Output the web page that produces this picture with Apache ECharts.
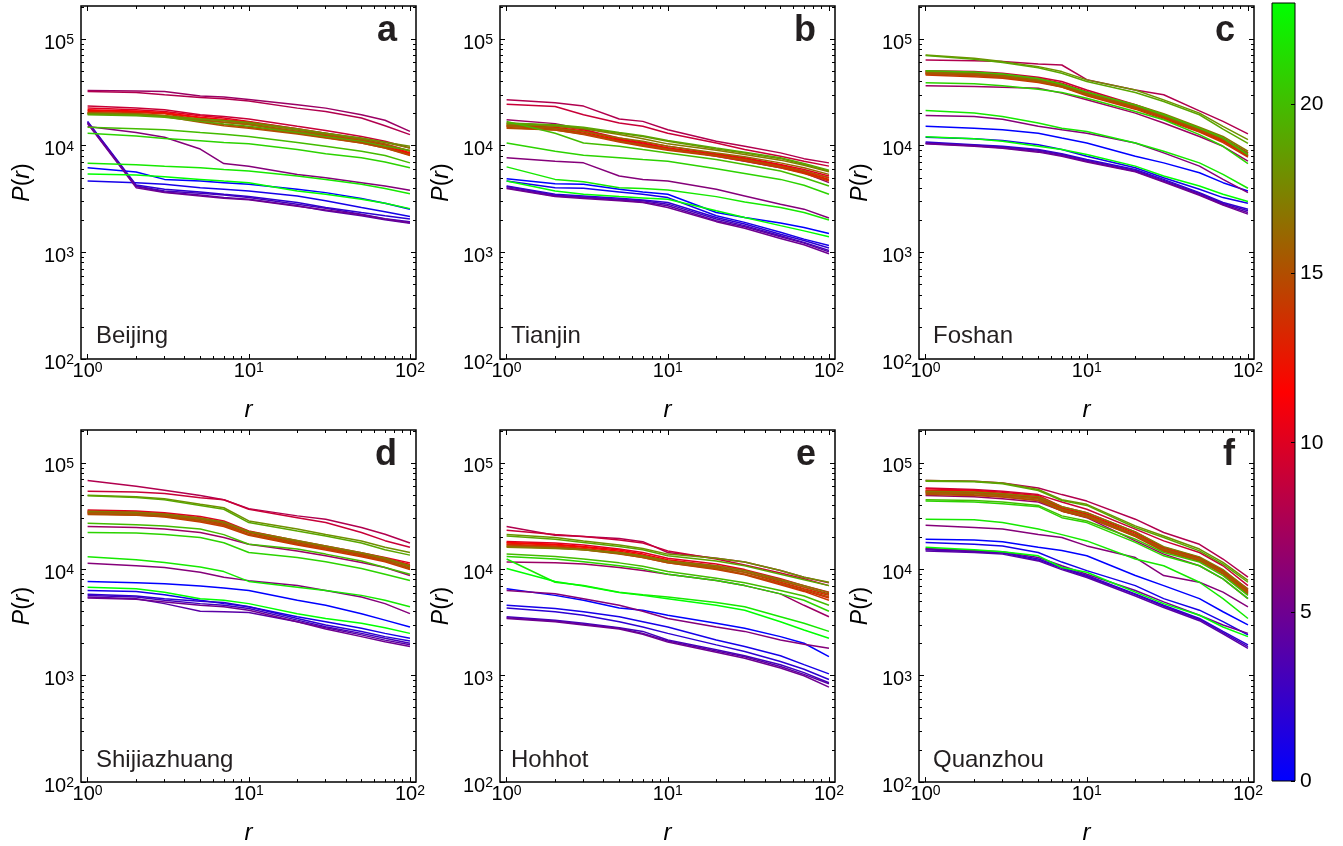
<!DOCTYPE html>
<html><head><meta charset="utf-8">
<script src="https://cdn.jsdelivr.net/npm/echarts@6/dist/echarts.min.js"></script>
<style>html,body{margin:0;padding:0;background:#fff}#c{width:1343px;height:846px}</style>
</head><body><div id="c"></div>
<script>
// ---------- data ----------
const R = [1, 2, 3, 5, 7, 10, 20, 30, 50, 70, 100];
const CITIES = ['Beijing', 'Tianjin', 'Foshan', 'Shijiazhuang', 'Hohhot', 'Quanzhou'];
const LETTERS = ['a', 'b', 'c', 'd', 'e', 'f'];
const X_TICKS = [1, 10, 100];
const Y_TICKS = [100, 1000, 10000, 100000];
const CBAR_TICKS = [0, 5, 10, 15, 20];
const CBAR_MAX = 23;

// P(r) for hours 0..23, values at R
const BEIJING = [
 [6200, 5660, 4830, 4660, 4500, 4340, 3900, 3630, 3190, 2890, 2540],
 [4660, 4500, 4340, 4040, 3900, 3760, 3380, 3040, 2630, 2400, 2170],
 [16900, 4280, 3900, 3680, 3500, 3330, 2930, 2630, 2360, 2200, 2050],
 [16700, 4190, 3760, 3580, 3450, 3260, 2830, 2590, 2280, 2070, 1940],
 [16300, 4140, 3680, 3450, 3260, 3150, 2730, 2450, 2200, 2020, 1870],
 [16100, 4040, 3630, 3380, 3220, 3110, 2700, 2490, 2250, 2050, 1890],
 [15100, 13300, 12000, 9300, 6800, 6430, 5380, 5010, 4500, 4190, 3820],
 [32900, 32600, 32200, 29200, 28600, 27100, 24200, 22500, 19500, 17300, 13600],
 [32200, 31500, 30000, 28300, 27500, 26300, 22500, 20900, 18200, 15400, 12700],
 [23500, 22500, 21700, 19500, 18800, 17800, 15200, 13900, 12200, 11000, 9500],
 [22500, 21700, 20900, 19100, 18200, 16900, 14400, 13100, 11500, 10400, 8900],
 [21700, 21200, 20400, 18500, 17600, 16700, 14000, 12700, 11200, 10200, 8560],
 [21400, 20800, 20200, 18200, 17200, 16100, 13600, 12400, 11000, 9870, 8450],
 [20900, 20500, 19900, 17500, 16600, 15800, 13300, 12200, 10800, 9650, 8270],
 [20400, 19900, 19100, 16900, 15800, 14900, 13100, 11900, 10600, 9500, 8090],
 [20200, 19800, 18800, 16600, 15400, 14600, 12900, 11800, 10600, 9500, 8200],
 [20200, 19900, 19100, 17200, 16600, 15800, 13600, 12700, 11400, 10300, 8850],
 [19900, 19600, 19100, 17800, 17200, 16600, 14400, 13100, 11700, 10700, 9500],
 [19800, 19500, 18800, 17800, 17200, 16300, 14100, 13100, 11800, 10800, 9870],
 [19500, 19100, 18500, 16900, 16000, 15200, 13300, 12200, 11000, 9870, 9060],
 [14900, 14400, 14100, 13300, 12800, 12200, 10700, 9870, 8850, 8080, 6900],
 [13100, 12300, 11700, 11100, 10700, 10400, 9190, 8400, 7700, 7030, 6200],
 [6860, 6630, 6430, 6200, 5990, 5780, 5190, 4830, 4340, 3960, 3550],
 [5430, 5300, 5120, 4830, 4660, 4500, 3760, 3500, 3150, 2890, 2570]
];
const TIANJIN = [
 [4910, 4390, 4340, 3900, 3680, 3500, 2360, 2120, 1880, 1710, 1500],
 [4660, 4040, 3980, 3680, 3500, 3260, 2200, 1910, 1540, 1330, 1160],
 [4190, 3500, 3380, 3220, 3100, 2930, 2120, 1840, 1480, 1290, 1100],
 [4140, 3430, 3310, 3150, 3040, 2830, 2050, 1780, 1430, 1240, 1040],
 [4040, 3380, 3260, 3100, 2970, 2730, 1980, 1740, 1400, 1220, 1010],
 [3960, 3330, 3190, 3040, 2930, 2630, 1940, 1680, 1350, 1180, 970],
 [7700, 7160, 6900, 5190, 4830, 4660, 3900, 3380, 2830, 2540, 2100],
 [17500, 16100, 14300, 11400, 10400, 9520, 7970, 7160, 6200, 5570, 4500],
 [26900, 25300, 23500, 17800, 16900, 14100, 11000, 9870, 8560, 7560, 6900],
 [24500, 23300, 19500, 16300, 15200, 13100, 10600, 9190, 7970, 7160, 6430],
 [16300, 15400, 14100, 11800, 10800, 9870, 8400, 7700, 6660, 5990, 5190],
 [15700, 14900, 13700, 11500, 10600, 9520, 8260, 7560, 6560, 5780, 5010],
 [15400, 14600, 13400, 11200, 10200, 9320, 8080, 7420, 6430, 5680, 4830],
 [15200, 14400, 13100, 11000, 10100, 9190, 8080, 7280, 6330, 5570, 4760],
 [14800, 14000, 12700, 10800, 9870, 9060, 7970, 7200, 6200, 5470, 4660],
 [14600, 14000, 12900, 11000, 10200, 9320, 8080, 7420, 6430, 5780, 5010],
 [15200, 14600, 13600, 11800, 11000, 9870, 8560, 7860, 6900, 6200, 5380],
 [15700, 15200, 14400, 12700, 11600, 10400, 9060, 8260, 7320, 6560, 5680],
 [16100, 15500, 14600, 13100, 12200, 11000, 9320, 8560, 7560, 6660, 5780],
 [16300, 15700, 14900, 13300, 12400, 11200, 9520, 8700, 7700, 6800, 5900],
 [16900, 13100, 10600, 9870, 9190, 8560, 7420, 6660, 5780, 5010, 4190],
 [10600, 8870, 8150, 7700, 7420, 7160, 6080, 5490, 4830, 4250, 3500],
 [6330, 4830, 4600, 4040, 3960, 3850, 3330, 2970, 2630, 2360, 2010],
 [4660, 3760, 3500, 3330, 3240, 3150, 2450, 2120, 1780, 1590, 1400]
];
const FOSHAN = [
 [15200, 14600, 14100, 13100, 11800, 10600, 7970, 6900, 5570, 4500, 3760],
 [12000, 11600, 11200, 10200, 9190, 7970, 6200, 5010, 3900, 3260, 2890],
 [10800, 10200, 9870, 9190, 8420, 7420, 5990, 4830, 3630, 2930, 2540],
 [10600, 10100, 9720, 9060, 8260, 7280, 5870, 4730, 3560, 2870, 2450],
 [10500, 10000, 9580, 8870, 8080, 7150, 5750, 4630, 3480, 2810, 2360],
 [10400, 9870, 9450, 8700, 7970, 7030, 5680, 4560, 3430, 2770, 2280],
 [19200, 18800, 17700, 15200, 14100, 13100, 10600, 8560, 6430, 4830, 3630],
 [36400, 35900, 35400, 34600, 31100, 26900, 20200, 16300, 12200, 9870, 7160],
 [63600, 62700, 61400, 58300, 57100, 41600, 33300, 30000, 21200, 16900, 12900],
 [50500, 49500, 47800, 43800, 39900, 33300, 24200, 19500, 14600, 11800, 8560],
 [49500, 47800, 46100, 42900, 38500, 32200, 23700, 19100, 14300, 11600, 8450],
 [48400, 47100, 45100, 41400, 37200, 31100, 23300, 18800, 14100, 11400, 8260],
 [47800, 46100, 44400, 40800, 36400, 30600, 23000, 18600, 13900, 11200, 8080],
 [47100, 45400, 43800, 39900, 35900, 30000, 22500, 18200, 13600, 11000, 7970],
 [46100, 44400, 42900, 39100, 35400, 29400, 22000, 17700, 13400, 10700, 7800],
 [47100, 45700, 43800, 39900, 35400, 30000, 22500, 18600, 13900, 11400, 8080],
 [48400, 47100, 45100, 40800, 36400, 30600, 23300, 19100, 14300, 11800, 8450],
 [49500, 48400, 46400, 42000, 38000, 31500, 24200, 19900, 14900, 12200, 8870],
 [70900, 65900, 61400, 55100, 49500, 41400, 33300, 26900, 20200, 15200, 11400],
 [69900, 64500, 60100, 53900, 47800, 39900, 31500, 26000, 19500, 14300, 10500],
 [50500, 49200, 47100, 42600, 37700, 31800, 24000, 19500, 14600, 11800, 8260],
 [39000, 38000, 36400, 33800, 31500, 27900, 20900, 17500, 12700, 9870, 6800],
 [21400, 20200, 18800, 16300, 14600, 13600, 10600, 8870, 6900, 5380, 3990],
 [12100, 11600, 11000, 9870, 9190, 8260, 6430, 5190, 4190, 3500, 3000]
];
const SHIJIAZHUANG = [
 [7700, 7480, 7320, 6960, 6660, 6330, 5120, 4590, 3830, 3330, 2870],
 [6330, 6200, 5780, 5120, 4760, 4440, 3580, 3220, 2790, 2500, 2250],
 [5820, 5610, 5300, 5010, 4870, 4440, 3450, 3000, 2600, 2330, 2120],
 [5690, 5490, 5120, 4760, 4590, 4280, 3330, 2890, 2500, 2250, 2020],
 [5490, 5300, 4760, 4040, 3990, 3930, 3220, 2830, 2420, 2160, 1950],
 [5380, 5230, 4940, 4590, 4440, 4130, 3220, 2750, 2330, 2090, 1880],
 [11400, 10800, 10400, 9390, 8430, 7830, 7030, 6330, 5490, 4760, 3830],
 [25300, 24700, 23900, 22200, 19900, 17200, 14900, 13400, 11600, 10400, 8740],
 [68400, 60500, 55500, 49500, 45100, 37200, 31800, 29600, 24700, 21400, 17700],
 [54200, 53200, 51700, 47100, 45100, 36700, 30600, 27500, 22200, 18600, 16100],
 [36200, 35400, 34100, 31300, 28500, 22900, 18600, 16600, 14300, 12900, 11500],
 [35400, 34600, 33300, 30400, 27500, 22500, 18200, 16300, 14100, 12700, 11100],
 [34600, 33600, 32400, 29600, 26500, 21900, 17700, 15900, 13800, 12300, 10700],
 [34100, 33100, 31800, 28700, 26000, 21200, 17200, 15500, 13400, 12000, 10300],
 [33300, 32400, 31100, 27900, 25300, 20900, 16900, 15200, 13100, 11800, 9940],
 [32800, 32200, 31300, 28500, 26000, 21200, 17500, 15700, 13600, 12100, 10100],
 [34100, 33300, 32200, 29600, 27100, 22200, 18200, 16300, 14100, 12500, 10500],
 [35200, 34400, 33100, 30400, 27900, 22700, 18700, 16600, 14300, 12800, 10800],
 [49800, 48100, 46100, 40800, 37900, 28500, 23900, 21200, 18500, 16100, 14400],
 [49100, 47400, 45100, 39900, 36700, 27500, 22900, 20600, 17700, 15300, 13600],
 [27100, 26300, 25500, 23900, 21200, 17200, 15500, 13900, 12000, 10400, 9000],
 [22200, 21900, 21200, 19900, 17800, 14400, 12900, 11800, 10200, 9000, 7860],
 [13100, 12300, 11600, 10500, 9520, 7700, 6800, 6330, 5690, 5120, 4440],
 [6800, 6560, 6100, 5300, 5120, 4760, 3830, 3450, 3110, 2830, 2500]
];
const HOHHOT = [
 [6560, 5690, 5120, 4340, 4130, 3700, 3110, 2790, 2330, 2020, 1510],
 [4590, 4280, 3990, 3580, 3220, 2870, 2170, 1880, 1540, 1270, 1040],
 [4340, 3990, 3700, 3220, 2870, 2500, 1950, 1690, 1360, 1150, 920],
 [3580, 3330, 3110, 2830, 2610, 2170, 1750, 1540, 1270, 1070, 860],
 [3500, 3260, 3040, 2790, 2500, 2120, 1710, 1510, 1220, 1030, 840],
 [3450, 3220, 3000, 2750, 2450, 2070, 1660, 1460, 1180, 1000, 780],
 [6330, 5880, 5300, 4590, 4040, 3450, 2870, 2610, 2170, 1980, 1810],
 [11700, 11500, 11200, 10400, 9730, 9000, 7860, 7030, 5880, 4590, 3580],
 [25300, 20900, 20300, 19500, 18200, 14400, 12700, 11700, 9730, 8430, 7480],
 [23300, 21200, 20300, 18900, 17700, 14900, 12500, 11000, 9250, 8140, 7030],
 [18300, 17700, 16900, 15500, 14400, 12700, 11200, 9940, 8140, 7030, 6100],
 [17900, 17200, 16400, 15200, 13900, 12300, 10800, 9730, 7860, 6800, 5880],
 [17700, 16900, 16100, 14800, 13600, 12000, 10500, 9390, 7560, 6560, 5690],
 [17200, 16600, 15700, 14400, 13200, 11800, 10200, 9000, 7300, 6330, 5380],
 [16900, 16300, 15500, 14100, 12900, 11500, 9940, 8870, 7160, 6200, 5120],
 [16600, 16100, 15300, 13900, 12900, 11500, 10100, 9000, 7420, 6480, 5490],
 [16400, 15900, 15300, 14100, 13100, 11800, 10400, 9390, 7750, 6800, 5780],
 [16100, 15700, 15300, 14400, 13400, 12000, 10800, 9730, 8020, 7030, 6040],
 [21200, 19900, 18500, 16900, 15700, 13900, 12700, 11700, 9730, 8430, 7560],
 [20600, 19200, 17900, 16400, 15300, 13400, 12000, 10800, 9000, 7970, 7030],
 [13900, 13200, 12500, 11500, 10700, 9520, 8260, 7480, 6330, 5610, 4590],
 [13200, 12500, 11800, 10800, 10100, 9000, 7860, 7030, 5880, 5120, 4040],
 [12500, 7560, 7030, 6100, 5780, 5490, 4870, 4440, 3580, 3110, 2610],
 [10200, 7700, 6960, 6040, 5690, 5300, 4590, 4130, 3220, 2690, 2250]
];
const QUANZHOU = [
 [19200, 18900, 18200, 16100, 15000, 13400, 8740, 7030, 5300, 3990, 3000],
 [17900, 17200, 16600, 14400, 11700, 9730, 7030, 5300, 4130, 3220, 2420],
 [15500, 14800, 14400, 12500, 10400, 8740, 5880, 4590, 3450, 2610, 1950],
 [15300, 14600, 14200, 12200, 10200, 8560, 5780, 4500, 3380, 2540, 1880],
 [14900, 14400, 13900, 12000, 9940, 8370, 5610, 4370, 3290, 2470, 1810],
 [15700, 15000, 14600, 12900, 10800, 9000, 6330, 4940, 3700, 3000, 2500],
 [26000, 24700, 23900, 21200, 19900, 16600, 12900, 8740, 7560, 6100, 4440],
 [49500, 48100, 46100, 42900, 35400, 30600, 18500, 13900, 10800, 8140, 5300],
 [68400, 67400, 64900, 58200, 50400, 43800, 29600, 22200, 17200, 12500, 8430],
 [58200, 56300, 54200, 50400, 42900, 36700, 23900, 18500, 14400, 10800, 7030],
 [57100, 55500, 53000, 49500, 38800, 34100, 22500, 16100, 12900, 9730, 6560],
 [55500, 54400, 51700, 48100, 37700, 33100, 21900, 15700, 12700, 9520, 6330],
 [54200, 52800, 50400, 47100, 37200, 32400, 21200, 15500, 12500, 9390, 6200],
 [53000, 51700, 49500, 46100, 36200, 31800, 20900, 15200, 12200, 9190, 6040],
 [51700, 50100, 48100, 44700, 35400, 31100, 20300, 14800, 12000, 9000, 5820],
 [50400, 49500, 47800, 44400, 35200, 30900, 20600, 15000, 12100, 9190, 5940],
 [52400, 51300, 49500, 46100, 36700, 32200, 21200, 15500, 12500, 9390, 6100],
 [54200, 53200, 51300, 48100, 38800, 34100, 22500, 16300, 13100, 9940, 6480],
 [68400, 67400, 64900, 56300, 45100, 40800, 25600, 20600, 15500, 11600, 7860],
 [67400, 66400, 63600, 55100, 44400, 39900, 24700, 19900, 14900, 11200, 7560],
 [45100, 44400, 42900, 39900, 31800, 28500, 19200, 14400, 11700, 8740, 5690],
 [43800, 42900, 41400, 38800, 30600, 27500, 17900, 13400, 10800, 8140, 5300],
 [29600, 29200, 27500, 23900, 21200, 18500, 12500, 10800, 7560, 5300, 3450],
 [16100, 15300, 14600, 13400, 10400, 9390, 6100, 4760, 3700, 2870, 2330]
];
const PANEL_DATA = [BEIJING, TIANJIN, FOSHAN, SHIJIAZHUANG, HOHHOT, QUANZHOU];

// ---------- layout / style ----------
const FONT = '"Liberation Sans", Arial, Helvetica, sans-serif';
const XMIN = 0.91, XMAX = 109, YMIN = 100, YMAX = 204000;
const GW = 335, GH = 353;
const GRID_POS = [
  [81, 6], [500, 6], [919, 6],
  [81, 430], [500, 430], [919, 430]
];
const CITY_X = [96, 511, 933];
const X_MINOR = [], Y_MINOR = [];
for (let d = 1; d <= 10; d *= 10) for (let k = 2; k <= 9; k++) X_MINOR.push(k * d);
for (let d = 100; d <= 10000; d *= 10) for (let k = 2; k <= 9; k++) Y_MINOR.push(k * d);
Y_MINOR.push(200000);

function hourColor(h) {
  let r, g, b;
  if (h <= 11.5) { const f = h / 11.5; r = 255 * f; g = 0; b = 255 * (1 - f); }
  else { const f = (h - 11.5) / 11.5; r = 255 * (1 - f); g = 255 * f; b = 0; }
  return 'rgb(' + Math.round(r) + ',' + Math.round(g) + ',' + Math.round(b) + ')';
}
function powLabel(v) {
  const e = Math.round(Math.log10(v));
  return '{b|10}{s|' + e + '}';
}
const LABEL_RICH = {
  b: { fontSize: 20, fontFamily: FONT, color: '#000', lineHeight: 20, verticalAlign: 'middle' },
  s: { fontSize: 14, fontFamily: FONT, color: '#000', lineHeight: 14, verticalAlign: 'top', padding: [0, 0, 22, 0] }
};

const grids = [], xAxes = [], yAxes = [], series = [], graphics = [];
GRID_POS.forEach(([left, top], p) => {
  grids.push({ left: left, top: top, width: GW, height: GH, show: true, borderColor: '#000', borderWidth: 1.5, backgroundColor: 'transparent' });
  const row = p < 3 ? 0 : 1;
  const mkX = (pos, ticks, len, main) => ({
    type: 'log', logBase: 10, gridIndex: p, position: pos, min: XMIN, max: XMAX,
    axisLine: { show: false }, splitLine: { show: false },
    axisTick: { show: true, inside: true, length: len, customValues: ticks, lineStyle: { color: '#000', width: 1 } },
    axisLabel: main ? { show: true, customValues: X_TICKS, formatter: powLabel, rich: LABEL_RICH, margin: 2, color: '#000' } : { show: false },
    name: main ? 'r' : '', nameLocation: 'middle', nameGap: row === 0 ? 31 : 29,
    nameTextStyle: { fontSize: 24, fontStyle: 'italic', fontFamily: FONT, color: '#000' }
  });
  const mkY = (pos, ticks, len, main) => ({
    type: 'log', logBase: 10, gridIndex: p, position: pos, min: YMIN, max: YMAX,
    axisLine: { show: false }, splitLine: { show: false },
    axisTick: { show: true, inside: true, length: len, customValues: ticks, lineStyle: { color: '#000', width: 1 } },
    axisLabel: main ? { show: true, customValues: Y_TICKS, formatter: powLabel, rich: LABEL_RICH, margin: 7, color: '#000', padding: [8, 0, 0, 0] } : { show: false },
    name: main ? '{i|P}({i|r})' : '', nameLocation: 'middle', nameGap: 47, nameRotate: 90,
    nameTextStyle: { fontSize: 23, fontFamily: FONT, color: '#000',
      rich: { i: { fontSize: 23, fontStyle: 'italic', fontFamily: FONT, color: '#000' } } }
  });
  xAxes.push(mkX('bottom', X_TICKS, 5, true), mkX('bottom', X_MINOR, 3, false), mkX('top', X_TICKS, 5, false), mkX('top', X_MINOR, 3, false));
  yAxes.push(mkY('left', Y_TICKS, 5, true), mkY('left', Y_MINOR, 3, false), mkY('right', Y_TICKS, 5, false), mkY('right', Y_MINOR, 3, false));

  PANEL_DATA[p].forEach((vals, h) => {
    const c = hourColor(h);
    series.push({
      type: 'line', xAxisIndex: 4 * p, yAxisIndex: 4 * p, name: CITIES[p] + ' ' + h,
      data: R.map((r, i) => [r, vals[i]]),
      symbol: 'none', showSymbol: false, silent: true,
      lineStyle: { width: 1.5, color: c }, itemStyle: { color: c }
    });
  });

  graphics.push({
    type: 'text', x: left + GW - 19, y: top + 25, z: 10,
    style: { text: LETTERS[p], font: 'bold 36px ' + FONT, fill: '#231f20', align: 'right', textAlign: 'right', verticalAlign: 'middle', textVerticalAlign: 'middle' }
  });
  graphics.push({
    type: 'text', x: CITY_X[p % 3], y: top + 330, z: 10,
    style: { text: CITIES[p], font: '24px ' + FONT, fill: '#231f20', align: 'left', textAlign: 'left', verticalAlign: 'middle', textVerticalAlign: 'middle' }
  });
});

// colour bar
const CB = 6;
grids.push({ left: 1272, top: 3, width: 23, height: 778, show: true, borderColor: '#000', borderWidth: 1, backgroundColor: 'transparent', z: 5 });
xAxes.push({ type: 'category', gridIndex: CB, data: ['hour'], show: false });
yAxes.push({
  type: 'value', gridIndex: CB, min: 0, max: CBAR_MAX, position: 'right', z: 6,
  axisLine: { show: false }, splitLine: { show: false },
  axisTick: { show: true, inside: true, length: 4, customValues: CBAR_TICKS, lineStyle: { color: '#000' } },
  axisLabel: { show: true, customValues: CBAR_TICKS, fontSize: 21, fontFamily: FONT, color: '#000', margin: 5 }
});
series.push({
  type: 'bar', xAxisIndex: xAxes.length - 1, yAxisIndex: yAxes.length - 1, data: [CBAR_MAX],
  barWidth: '100%', silent: true, z: 1,
  itemStyle: { color: new echarts.graphic.LinearGradient(0, 1, 0, 0, [
    { offset: 0, color: hourColor(0) }, { offset: 0.5, color: hourColor(11.5) }, { offset: 1, color: hourColor(23) }
  ]) }
});

const chart = echarts.init(document.getElementById('c'), null, { renderer: 'canvas' });
chart.setOption({
  animation: false,
  backgroundColor: '#fff',
  textStyle: { fontFamily: FONT },
  grid: grids, xAxis: xAxes, yAxis: yAxes, series: series, graphic: graphics
});
</script>
</body></html>
